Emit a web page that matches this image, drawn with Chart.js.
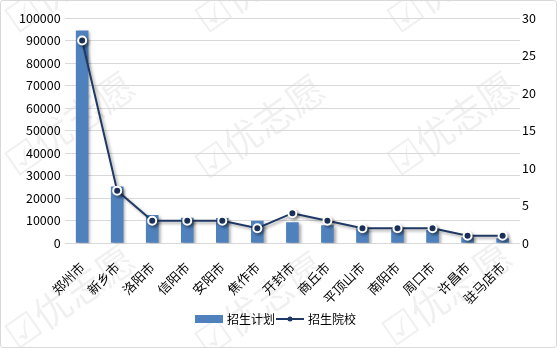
<!DOCTYPE html>
<html>
<head>
<meta charset="utf-8">
<script src="https://cdn.jsdelivr.net/npm/chart.js@4"></script>
<style>
  html, body { margin: 0; padding: 0; background: #fff; }
  #wrap { width: 555px; height: 346px; border: 1px solid #d9d9d9; border-radius: 3px; position: relative; }
</style>
</head>
<body>
<div id="wrap"><canvas id="c" width="555" height="346"></canvas></div>
<script>
// data
const cities = ['郑州市','新乡市','洛阳市','信阳市','安阳市','焦作市','开封市','商丘市','平顶山市','南阳市','周口市','许昌市','驻马店市'];
const planCounts = [94500, 25200, 12500, 11300, 11200, 10000, 9300, 8000, 6600, 6500, 5900, 2600, 2200];
const schoolCounts = [27, 7, 3, 3, 3, 2, 4, 3, 2, 2, 2, 1, 1];
const leftTicks = [0, 10000, 20000, 30000, 40000, 50000, 60000, 70000, 80000, 90000, 100000];
const rightTicks = [0, 5, 10, 15, 20, 25, 30];

const barColor = '#4f81bd';
const lineColor = '#1f3864';
const font = '"Noto Sans CJK SC", "Microsoft YaHei", sans-serif';

// legend swatches
function swatch(kind) {
  const c = document.createElement('canvas');
  c.width = 30; c.height = 10;
  const g = c.getContext('2d');
  if (kind === 'bar') {
    g.fillStyle = barColor; g.fillRect(1, 1, 28, 8);
  } else {
    g.strokeStyle = lineColor; g.lineWidth = 2;
    g.beginPath(); g.moveTo(1, 5); g.lineTo(29, 5); g.stroke();
    g.fillStyle = lineColor; g.beginPath(); g.arc(15, 5, 2.5, 0, Math.PI * 2); g.fill();
  }
  return c;
}

// faint site watermark tiled behind the chart
const watermarkSpots = [[8, 22], [198, 22], [390, 22], [8, 165], [198, 168], [390, 165], [8, 338], [198, 345], [385, 335]];
const watermarkPlugin = {
  id: 'watermark',
  beforeDraw(chart) {
    const ctx = chart.ctx;
    ctx.save();
    ctx.fillStyle = 'rgba(0,0,0,0.06)';
    ctx.font = '38px "Noto Sans CJK SC", "DejaVu Sans", sans-serif';
    ctx.textBaseline = 'middle';
    watermarkSpots.forEach(([x, y]) => {
      ctx.save();
      ctx.translate(x, y);
      ctx.rotate(-35 * Math.PI / 180);
      ctx.fillText('☑优志愿', 0, 0);
      ctx.restore();
    });
    ctx.restore();
  }
};

// drop shadow under bars and line, like the office chart
const shadowPlugin = {
  id: 'shadow',
  beforeDatasetsDraw(chart) {
    const ctx = chart.ctx;
    ctx.save();
    ctx.shadowColor = 'rgba(0,0,0,0.35)';
    ctx.shadowBlur = 3;
    ctx.shadowOffsetX = 2;
    ctx.shadowOffsetY = 2;
  },
  afterDatasetsDraw(chart) { chart.ctx.restore(); }
};

new Chart(document.getElementById('c'), {
  data: {
    labels: cities,
    datasets: [
      {
        type: 'line', label: '招生院校', data: schoolCounts, yAxisID: 'y1',
        borderColor: lineColor, borderWidth: 2, tension: 0,
        pointRadius: 4, pointBackgroundColor: lineColor, pointBorderColor: '#fff', pointBorderWidth: 2,
        order: 0
      },
      {
        type: 'bar', label: '招生计划', data: planCounts, yAxisID: 'y',
        backgroundColor: barColor, barPercentage: 0.9, categoryPercentage: 0.4,
        order: 1
      }
    ]
  },
  options: {
    responsive: false, animation: false,
    layout: { padding: { left: 14, right: 18, top: 17, bottom: 12 } },
    plugins: {
      tooltip: { enabled: false },
      legend: {
        position: 'bottom',
        labels: {
          usePointStyle: true, pointStyleWidth: 24, color: '#000', font: { family: font, size: 12 }, padding: 3,
          generateLabels(chart) {
            return [
              { text: '招生计划', pointStyle: swatch('bar'), fillStyle: barColor, strokeStyle: barColor, lineWidth: 0, datasetIndex: 1 },
              { text: '招生院校', pointStyle: swatch('line'), fillStyle: lineColor, strokeStyle: lineColor, lineWidth: 0, datasetIndex: 0 }
            ];
          }
        }
      }
    },
    scales: {
      x: {
        grid: { display: false }, border: { display: false },
        ticks: { color: '#000', font: { family: font, size: 13 }, maxRotation: 45, minRotation: 45, padding: 8 },
        afterFit(axis) { axis.paddingLeft = 0; axis.paddingRight = 0; axis.height -= 5; }
      },
      y: {
        position: 'left', min: 0, max: 100000,
        afterBuildTicks(axis) { axis.ticks = leftTicks.map(v => ({ value: v })); },
        grid: { color: '#d9d9d9', drawTicks: false }, border: { display: false },
        ticks: { color: '#000', font: { family: font, size: 12.5 }, padding: 4, callback: v => String(v) }
      },
      y1: {
        position: 'right', min: 0, max: 30,
        afterBuildTicks(axis) { axis.ticks = rightTicks.map(v => ({ value: v })); },
        grid: { display: false, drawTicks: false }, border: { display: false },
        ticks: { color: '#000', font: { family: font, size: 12.5 }, padding: 2 }
      }
    }
  },
  plugins: [watermarkPlugin, shadowPlugin]
});
</script>
</body>
</html>
